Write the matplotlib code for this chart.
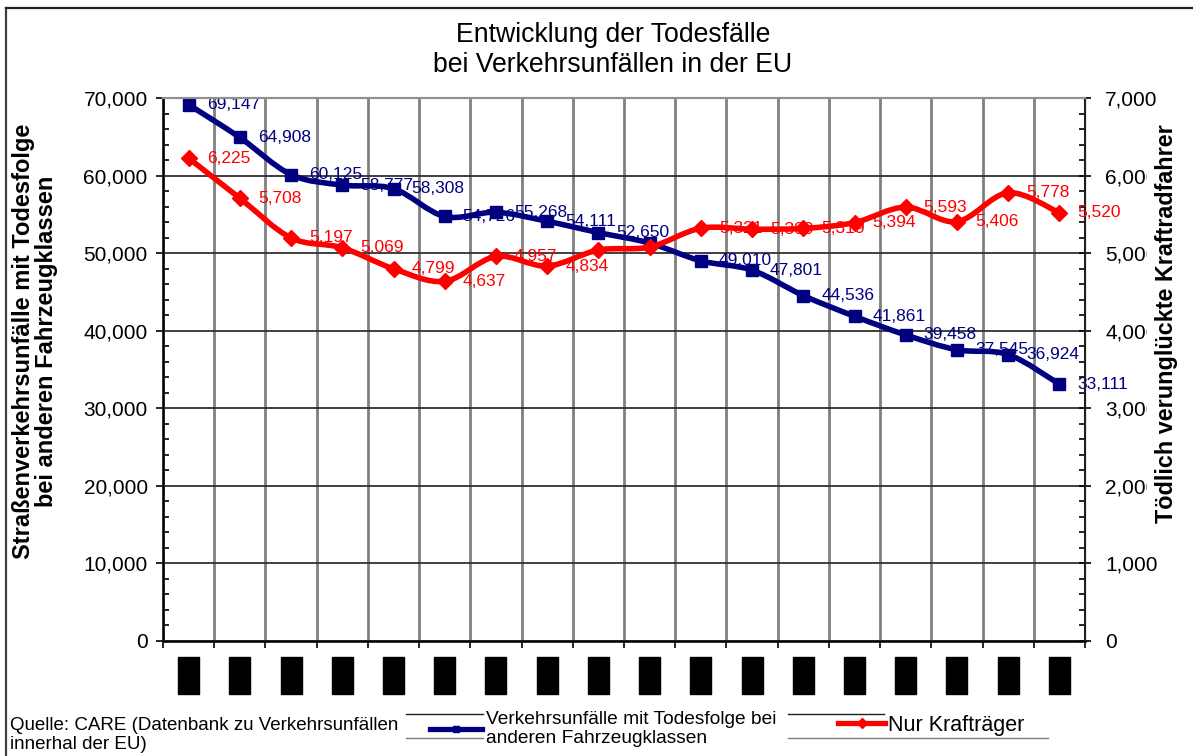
import matplotlib
matplotlib.use("Agg")
import matplotlib.pyplot as plt
from matplotlib.lines import Line2D
from matplotlib.path import Path
from matplotlib.patches import PathPatch
from matplotlib.ticker import MultipleLocator, FuncFormatter

plt.rcParams['font.family'] = ['Liberation Sans', 'DejaVu Sans']

# ---------------- data ----------------
years = [str(y) for y in range(1990, 2008)]
all_classes = [69147, 64908, 60125, 58777, 58308, 54726, 55268, 54111, 52650,
               51300, 49010, 47801, 44536, 41861, 39458, 37545, 36924, 33111]
all_labels = ["69,147", "64,908", "60,125", "58,777", "58,308", "54,726", "55,268",
              "54,111", "52,650", None, "49,010", "47,801", "44,536", "41,861",
              "39,458", "37,545", "36,924", "33,111"]
motorcycle = [6225, 5708, 5197, 5069, 4799, 4637, 4957, 4834, 5040,
              5079, 5321, 5309, 5319, 5394, 5593, 5406, 5778, 5520]
moto_labels = ["6,225", "5,708", "5,197", "5,069", "4,799", "4,637", "4,957",
               "4,834", None, None, "5,321", "5,309", "5,319", "5,394", "5,593",
               "5,406", "5,778", "5,520"]

title = "Entwicklung der Todesfälle\nbei Verkehrsunfällen in der EU"
ylabel_left = "Straßenverkehrsunfälle mit Todesfolge\nbei anderen Fahrzeugklassen"
ylabel_right = "Tödlich verunglückte Kraftradfahrer"
legend_blue = "Verkehrsunfälle mit Todesfolge bei\nanderen Fahrzeugklassen"
legend_red = "Nur Krafträger"
source = "Quelle: CARE (Datenbank zu Verkehrsunfällen\ninnerhal der EU)"

BLUE = "#000080"
RED = "#FF0000"

W, H = 1193, 756
fig = plt.figure(figsize=(W / 100, H / 100), dpi=100)
L, R, T, B = 163, 1085, 98, 641
ax = fig.add_axes([L / W, 1 - B / H, (R - L) / W, (B - T) / H])
ax2 = ax.twinx()

x = list(range(len(years)))


def smooth_path(xs, ys):
    """Smoothed (Catmull-Rom style Bezier) path through the data points,
    like a spreadsheet 'smoothed line'."""
    n = len(xs)
    verts = [(xs[0], ys[0])]
    codes = [Path.MOVETO]
    for i in range(n - 1):
        p0 = (xs[max(i - 1, 0)], ys[max(i - 1, 0)])
        p1 = (xs[i], ys[i])
        p2 = (xs[i + 1], ys[i + 1])
        p3 = (xs[min(i + 2, n - 1)], ys[min(i + 2, n - 1)])
        c1 = (p1[0] + (p2[0] - p0[0]) / 6, p1[1] + (p2[1] - p0[1]) / 6)
        c2 = (p2[0] - (p3[0] - p1[0]) / 6, p2[1] - (p3[1] - p1[1]) / 6)
        verts += [c1, c2, p2]
        codes += [Path.CURVE4] * 3
    return Path(verts, codes)


# blue series (left axis)
ax.add_patch(PathPatch(smooth_path(x, all_classes), facecolor="none",
                       edgecolor=BLUE, lw=4.0, zorder=3, capstyle="round",
                       joinstyle="round"))
ax.plot(x, all_classes, ls="none", color=BLUE, marker="s", ms=9, zorder=3)
for xi, v, lab in zip(x, all_classes, all_labels):
    if lab:
        ax.annotate(lab, (xi, v), xytext=(13, 0), textcoords="offset points",
                    ha="left", va="center", fontsize=12.5, color=BLUE, zorder=4)

# red series (right axis)
ax2.add_patch(PathPatch(smooth_path(x, motorcycle), facecolor="none",
                        edgecolor=RED, lw=4.0, zorder=3, capstyle="round",
                        joinstyle="round"))
ax2.plot(x, motorcycle, ls="none", color=RED, marker="D", ms=8, zorder=3)
for xi, v, lab in zip(x, motorcycle, moto_labels):
    if lab:
        ax2.annotate(lab, (xi, v), xytext=(13, 0), textcoords="offset points",
                     ha="left", va="center", fontsize=12.5, color=RED, zorder=4)

# axes limits and ticks
ax.set_xlim(-0.5, len(years) - 0.5)
ax.set_ylim(0, 70000)
ax2.set_ylim(0, 7000)

ax.yaxis.set_major_locator(MultipleLocator(10000))
ax.yaxis.set_minor_locator(MultipleLocator(2000))
ax2.yaxis.set_major_locator(MultipleLocator(1000))
ax2.yaxis.set_minor_locator(MultipleLocator(200))
fmt = FuncFormatter(lambda v, p: f"{int(v):,}")
ax.yaxis.set_major_formatter(fmt)
ax2.yaxis.set_major_formatter(fmt)

ax.tick_params(axis="y", which="major", direction="out", length=5, width=1.2,
               labelsize=15, pad=6)
ax.tick_params(axis="y", which="minor", direction="in", length=4, width=1.2)
ax2.tick_params(axis="y", which="major", direction="inout", length=9, width=1.2,
                labelsize=15, pad=10)
ax2.tick_params(axis="y", which="minor", direction="in", length=4, width=1.2)

# x ticks: boundaries for gridlines, centred (redacted) labels
ax.set_xticks([i - 0.5 for i in range(len(years) + 1)])
ax.set_xticklabels([])
ax.set_xticks(x, minor=True)
ax.set_xticklabels(years, minor=True, rotation=90, fontsize=9.8, color="black",
                   bbox=dict(facecolor="black", edgecolor="black", pad=2.5))
ax.tick_params(axis="x", which="major", direction="out", length=5, width=1.2)
ax.tick_params(axis="x", which="minor", length=0, pad=14)

ax.xaxis.grid(True, which="major", color="#808080", lw=2)
ax.xaxis.grid(False, which="minor")
ax.yaxis.grid(True, which="major", color="#303030", lw=1.3)
ax.yaxis.grid(False, which="minor")
ax2.grid(False)
ax.set_axisbelow(True)

for s in ["left", "bottom"]:
    ax.spines[s].set_linewidth(2)
    ax.spines[s].set_color("#202020")
ax.spines["top"].set_color("#909090")
ax.spines["top"].set_linewidth(1.5)
ax2.spines["top"].set_color("#909090")
ax2.spines["top"].set_linewidth(1.5)
ax2.spines["right"].set_linewidth(1.5)
ax2.spines["right"].set_color("#202020")

# titles / labels
fig.text(613 / W, 1 - 50 / H, title, ha="center", va="center", fontsize=19.2,
         linespacing=1.2)
fig.text(35 / W, 1 - 341 / H, ylabel_left, rotation=90, ha="center", va="center",
         fontsize=17, fontweight="bold", linespacing=1.03)
fig.text(1167 / W, 1 - 324 / H, ylabel_right, rotation=90, ha="center", va="center",
         fontsize=16.8, fontweight="bold",
         bbox=dict(facecolor="white", edgecolor="none", pad=6), zorder=10)

# source text
fig.text(10 / W, 1 - 735 / H, source, ha="left", va="center", fontsize=13.5,
         linespacing=1.15)

# legends
h_blue = Line2D([], [], color=BLUE, lw=3.8, marker="s", ms=5)
h_red = Line2D([], [], color=RED, lw=3.8, marker="D", ms=5)
lg1 = fig.legend([h_blue], [legend_blue], loc="center left",
                 bbox_to_anchor=(430 / W, 1 - 729 / H), frameon=False,
                 fontsize=13.8, handlelength=2.7, handletextpad=0.2,
                 borderaxespad=0, borderpad=0)
lg2 = fig.legend([h_red], [legend_red], loc="center left",
                 bbox_to_anchor=(838 / W, 1 - 725 / H), frameon=False,
                 fontsize=15.5, handlelength=2.2, handletextpad=0.1,
                 borderaxespad=0, borderpad=0)

# decorative thin lines around legend entries
def hline(x0, x1, y, color, lw=1.0):
    fig.add_artist(Line2D([x0 / W, x1 / W], [1 - y / H, 1 - y / H],
                          color=color, lw=lw, transform=fig.transFigure))

hline(406, 483, 714, "#202020")
hline(406, 483, 738, "#808080")
hline(788, 884, 714, "#202020")
hline(788, 1048, 738, "#808080")

# outer frame (left and top edges)
fig.add_artist(Line2D([6 / W, 6 / W], [0, 1 - 8 / H], color="#404040", lw=1.6,
                      transform=fig.transFigure))
fig.add_artist(Line2D([6 / W, 1], [1 - 8 / H, 1 - 8 / H], color="#202020", lw=1.6,
                      transform=fig.transFigure))

fig.savefig("out.png", dpi=100)
